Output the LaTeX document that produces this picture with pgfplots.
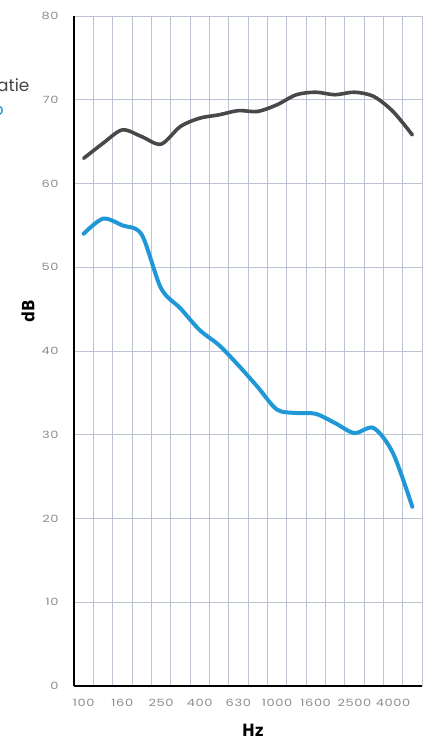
\documentclass[border=0pt]{standalone}
\usepackage{pgfplots}
\pgfplotsset{compat=1.18}
\usepackage{fontspec}
\setmainfont{Poppins}
\newfontfamily\tickfont{Poppins}[FakeStretch=1.3, LetterSpace=6]
\newfontfamily\condfont{DejaVu Sans Condensed}
\definecolor{gridc}{RGB}{190,195,212}
\definecolor{ticktext}{RGB}{140,140,140}
\definecolor{darkline}{RGB}{72,72,72}
\definecolor{blueline}{RGB}{32,152,216}
\definecolor{legtext}{RGB}{70,70,70}
\begin{document}
\begin{tikzpicture}
\begin{axis}[at={(0,0)},anchor=south west,
  width=348bp,height=670bp,scale only axis,
  xmin=-0.5,xmax=17.5,ymin=0,ymax=80,
  axis x line*=bottom, axis y line*=left,
  axis line style={line width=2.4bp,black,-},
  xtick={0,2,...,16},
  xticklabels={100,160,250,400,630,1000,1600,2500,4000},
  minor xtick={0.5,1.5,...,17.5},
  ytick={0,10,...,80},
  xmajorgrids=false, xminorgrids=true, ymajorgrids=true,
  grid style={gridc,line width=0.6bp},
  minor grid style={gridc,line width=0.6bp},
  major tick length=0pt, minor tick length=0pt,
  tick label style={font=\tickfont\fontsize{10}{11}\selectfont, text=ticktext},
  /pgf/number format/assume math mode=true,
  xticklabel style={yshift=-10bp},
  yticklabel style={xshift=-12bp},
  clip=false]
\addplot[darkline, line width=3.6bp, smooth, line cap=round] coordinates {
(0,63.0) (1,64.8) (2,66.4) (3,65.6) (4,64.7) (5,66.8) (6,67.8) (7,68.2) (8,68.7)
(9,68.6) (10,69.4) (11,70.6) (12,70.9) (13,70.6) (14,70.9) (15,70.4) (16,68.6) (17,65.8)};
\addplot[blueline, line width=4bp, smooth, line cap=round] coordinates {
(0,54.0) (1,55.8) (2,55.0) (3,53.9) (4,47.5) (5,45.1) (6,42.5) (7,40.7) (8,38.3)
(9,35.7) (10,33.0) (11,32.6) (12,32.5) (13,31.4) (14,30.2) (15,30.8) (16,27.8) (17,21.4)};
\node[rotate=90, font=\condfont\bfseries\fontsize{17}{17}\selectfont] at (rel axis cs:-0.132,0.56) {dB};
\node[font=\condfont\bfseries\fontsize{17}{17}\selectfont] at (rel axis cs:0.514,-0.066) {Hz};
\end{axis}
\node[anchor=base east, font=\fontsize{17}{17}\selectfont, text=legtext] at (-41bp,594bp) {Geluidsisolatie};
\node[anchor=base east, font=\fontsize{17}{17}\selectfont, text=blueline, inner sep=0pt] at (-70bp,570bp) {o};
\pgfresetboundingbox
\useasboundingbox (-74bp,-53bp) rectangle (359bp,686bp);
\end{tikzpicture}
\end{document}
